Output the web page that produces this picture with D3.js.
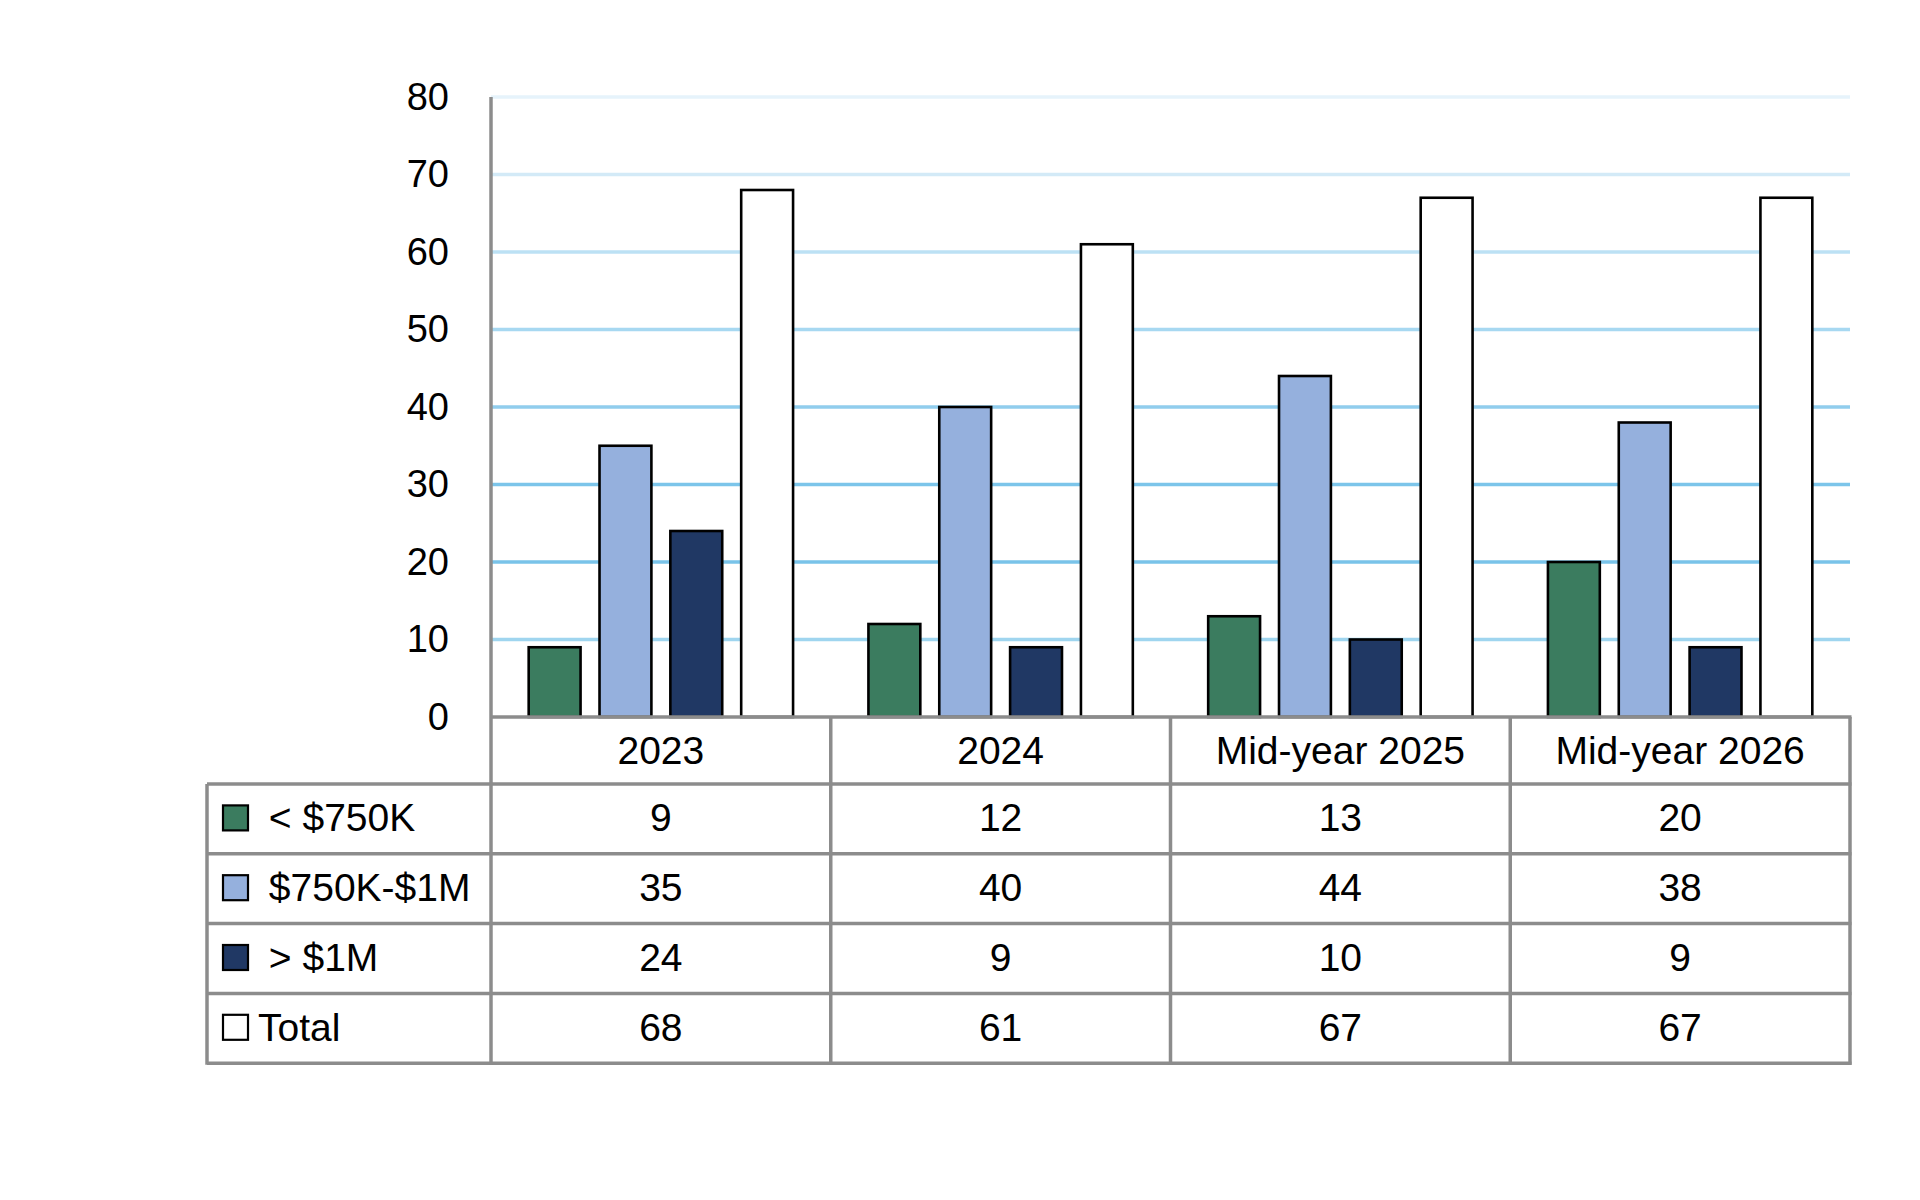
<!DOCTYPE html>
<html>
<head>
<meta charset="utf-8">
<script src="https://cdn.jsdelivr.net/npm/d3@7"></script>
<style>
  html, body { margin: 0; padding: 0; background: #ffffff; }
  svg { display: block; }
</style>
</head>
<body>
<svg id="chart" width="1920" height="1200"></svg>
<script>
const categories = ['2023', '2024', 'Mid-year 2025', 'Mid-year 2026'];
const seriesNames = ['< $750K', '$750K-$1M', '> $1M', 'Total'];
const under750k = [9, 12, 13, 20];
const mid750kTo1m = [35, 40, 44, 38];
const over1m = [24, 9, 10, 9];
const totals = [68, 61, 67, 67];
const yTicks = [0, 10, 20, 30, 40, 50, 60, 70, 80];

const seriesValues = [under750k, mid750kTo1m, over1m, totals];
const seriesFill = ['#3b7c5f', '#95b0dd', '#203864', '#ffffff'];
// the gridlines fade lighter towards the top
const gridColor = {
  10: '#9fd5ef', 20: '#79c3e9', 30: '#7cc5ea', 40: '#90cded',
  50: '#a7d8f1', 60: '#bce1f4', 70: '#d3eaf7', 80: '#e6f3fb'
};

const FONT = '"Liberation Sans", Arial, sans-serif';
const LINE = '#8c8c8c';
const PLOT_LEFT = 491;
const PLOT_RIGHT = 1850;
const PLOT_TOP = 97;
const BASE = 717;
const ROW_H = 69.8;
const HEADER_H = 67;
const TABLE_LEFT = 207;

const svg = d3.select('#chart');
svg.append('rect').attr('width', 1920).attr('height', 1200).attr('fill', '#ffffff');

const x = d3.scaleBand()
  .domain(categories)
  .range([PLOT_LEFT, PLOT_RIGHT])
  .padding(0);

const xInner = d3.scaleBand()
  .domain(seriesNames)
  .range([0, x.bandwidth()])
  .paddingInner(0.2676)
  .paddingOuter(0.532);

const y = d3.scaleLinear()
  .domain([0, 80])
  .range([BASE, PLOT_TOP]);

// gridlines
svg.append('g')
  .selectAll('line')
  .data(yTicks.filter((t) => t > 0))
  .join('line')
  .attr('x1', PLOT_LEFT)
  .attr('x2', PLOT_RIGHT)
  .attr('y1', (d) => y(d))
  .attr('y2', (d) => y(d))
  .attr('stroke', (d) => gridColor[d])
  .attr('stroke-width', 3.6);

// y tick labels
const yAxis = svg.append('g')
  .attr('transform', `translate(${PLOT_LEFT - 42}, 0)`)
  .call(d3.axisLeft(y).tickValues(yTicks).tickSize(0).tickPadding(0));
yAxis.select('.domain').remove();
yAxis.selectAll('text')
  .attr('font-family', FONT)
  .attr('font-size', 38)
  .attr('fill', '#000000');

// bars
const barData = [];
categories.forEach((cat, ci) => {
  seriesNames.forEach((name, si) => {
    barData.push({ cat, name, si, value: seriesValues[si][ci] });
  });
});

svg.append('g')
  .selectAll('rect')
  .data(barData)
  .join('rect')
  .attr('x', (d) => x(d.cat) + xInner(d.name))
  .attr('y', (d) => y(d.value))
  .attr('width', xInner.bandwidth())
  .attr('height', (d) => y(0) - y(d.value))
  .attr('fill', (d) => seriesFill[d.si])
  .attr('stroke', '#000000')
  .attr('stroke-width', 2.6);

// data table
const table = svg.append('g');
const rowTop = (i) => BASE + HEADER_H + i * ROW_H;
const tableBottom = rowTop(seriesNames.length);

// header labels
table.selectAll('text.cat')
  .data(categories)
  .join('text')
  .attr('class', 'cat')
  .attr('x', (d) => x(d) + x.bandwidth() / 2)
  .attr('y', BASE + HEADER_H / 2)
  .attr('text-anchor', 'middle')
  .attr('dominant-baseline', 'central')
  .attr('font-family', FONT)
  .attr('font-size', 39)
  .attr('fill', '#000000')
  .text((d) => d);

// value cells
seriesNames.forEach((name, si) => {
  const cy = rowTop(si) + ROW_H / 2 - 1;

  table.append('rect')
    .attr('x', 223)
    .attr('y', cy - 12.5)
    .attr('width', 25)
    .attr('height', 25)
    .attr('fill', seriesFill[si])
    .attr('stroke', '#000000')
    .attr('stroke-width', 2.2);

  table.append('text')
    .attr('x', 258)
    .attr('y', cy)
    .attr('dominant-baseline', 'central')
    .attr('font-family', FONT)
    .attr('font-size', 39)
    .attr('fill', '#000000')
    .style('white-space', 'pre')
    .text(name === 'Total' ? name : ' ' + name);

  table.selectAll(null)
    .data(categories)
    .join('text')
    .attr('x', (d) => x(d) + x.bandwidth() / 2)
    .attr('y', cy)
    .attr('text-anchor', 'middle')
    .attr('dominant-baseline', 'central')
    .attr('font-family', FONT)
    .attr('font-size', 39)
    .attr('fill', '#000000')
    .text((d, ci) => seriesValues[si][ci]);
});

// table grid lines
const hLines = [{ x1: PLOT_LEFT, y: BASE }];
for (let i = 0; i <= seriesNames.length; i += 1) {
  hLines.push({ x1: TABLE_LEFT, y: rowTop(i) });
}
table.selectAll('line.h')
  .data(hLines)
  .join('line')
  .attr('class', 'h')
  .attr('x1', (d) => d.x1)
  .attr('x2', PLOT_RIGHT + 1.5)
  .attr('y1', (d) => d.y)
  .attr('y2', (d) => d.y)
  .attr('stroke', LINE)
  .attr('stroke-width', 3.5);

const vLines = categories.map((c, i) => ({ x: x(c), y1: i === 0 ? PLOT_TOP : BASE }));
vLines.push({ x: PLOT_RIGHT, y1: BASE });
vLines.push({ x: TABLE_LEFT, y1: rowTop(0) });

table.selectAll('line.v')
  .data(vLines)
  .join('line')
  .attr('class', 'v')
  .attr('x1', (d) => d.x)
  .attr('x2', (d) => d.x)
  .attr('y1', (d) => d.y1)
  .attr('y2', tableBottom + 1.5)
  .attr('stroke', LINE)
  .attr('stroke-width', 3.5);
</script>
</body>
</html>
